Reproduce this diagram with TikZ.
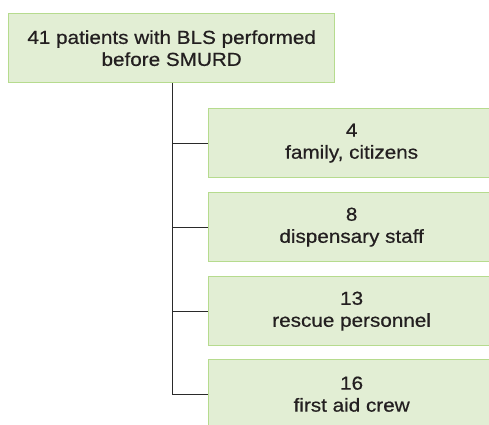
\documentclass[tikz,border=0pt]{standalone}
\usepackage{fontspec}
\setmainfont{Liberation Sans}[FakeStretch=1.1,FakeBold=0.6]
\definecolor{boxfill}{HTML}{E2EED4}
\definecolor{boxline}{HTML}{B6DB8E}
\definecolor{linkcol}{HTML}{2A2A2A}
\definecolor{txt}{HTML}{231F20}
\tikzset{
  flowbox/.style={draw=boxline, fill=boxfill, line width=1.3pt, align=center,
    font=\fontsize{18.8}{22}\selectfont, text=txt, inner sep=0pt, anchor=north west},
  link/.style={draw=linkcol, line width=1.2pt}
}
\begin{document}
\begin{tikzpicture}[x=1pt,y=-1pt]
\useasboundingbox (0,0) rectangle (489,424);
\clip (0,0) rectangle (489,424);
\node[flowbox, minimum width=326pt, minimum height=69pt] (top) at (8,13) {41 patients with BLS performed\\before SMURD};
\node[flowbox, minimum width=286pt, minimum height=69pt] (b1) at (208,108) {4\\family, citizens};
\node[flowbox, minimum width=286pt, minimum height=69pt] (b2) at (208,192) {8\\dispensary staff};
\node[flowbox, minimum width=286pt, minimum height=69pt] (b3) at (208,276) {13\\rescue personnel};
\node[flowbox, minimum width=286pt, minimum height=69pt] (b4) at (208,359) {16\\first aid crew};
\coordinate (trunk) at ([xshift=1pt]top.south);
\draw[link] (trunk) -- (trunk |- b4.west) -- (b4.west);
\draw[link] (trunk |- b1.west) -- (b1.west);
\draw[link] (trunk |- b2.west) -- (b2.west);
\draw[link] (trunk |- b3.west) -- (b3.west);
\end{tikzpicture}
\end{document}
